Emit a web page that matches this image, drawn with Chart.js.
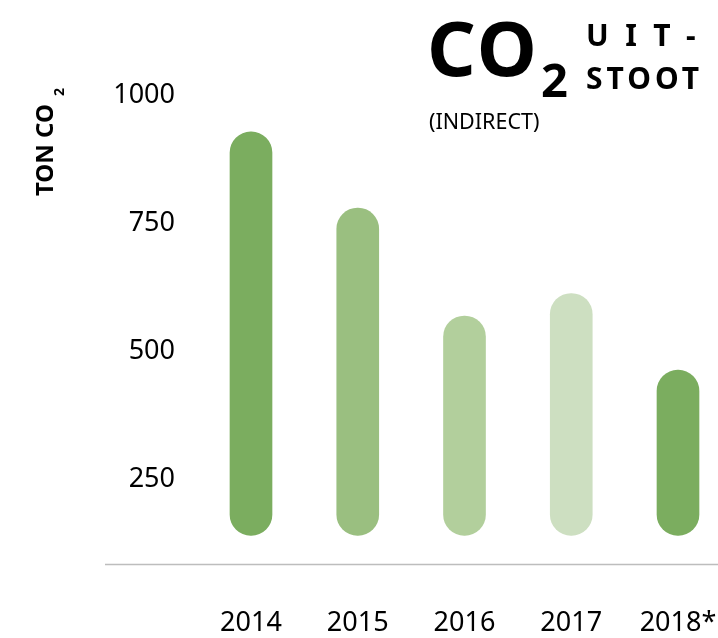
<!DOCTYPE html>
<html>
<head>
<meta charset="utf-8">
<script src="https://cdn.jsdelivr.net/npm/chart.js@4.4.0/dist/chart.umd.min.js"></script>
<style>
  html, body { margin: 0; padding: 0; background: #fff; }
  #wrap { position: relative; width: 718px; height: 638px; font-family: "Noto Sans", sans-serif; color: #000; }
  #chart { position: absolute; left: 0; top: 0; }
  .t { position: absolute; line-height: 1; white-space: nowrap; font-weight: 700; }
  #co { left: 427px; top: 9px; font-size: 76px; letter-spacing: 2.5px; }
  #co-sub { left: 541px; top: 56px; font-size: 47px; }
  #indirect { left: 429px; top: 110px; font-size: 21.5px; font-weight: 400; }
  #uit { left: 586px; top: 20px; font-size: 30px; letter-spacing: 16.5px; }
  #stoot { left: 586px; top: 63px; font-size: 30px; letter-spacing: 4px; }
  #ytitle { left: 31.6px; top: 195.5px; font-size: 24px; transform-origin: 0 0; transform: rotate(-90deg); }
  #ytitle span { position: absolute; left: 100px; top: 20px; font-size: 14px; line-height: 1; }
</style>
</head>
<body>
<div id="wrap">
  <canvas id="chart" width="718" height="638"></canvas>
  <div class="t" id="co">CO</div>
  <div class="t" id="co-sub">2</div>
  <div class="t" id="uit">UIT-</div>
  <div class="t" id="stoot">STOOT</div>
  <div class="t" id="indirect">(INDIRECT)</div>
  <div class="t" id="ytitle">TON CO<span>2</span></div>
</div>
<script>
const YEARS   = ['2014', '2015', '2016', '2017', '2018*'];
const CO2_TON = [924, 775, 564, 608, 458];
const BAR_BASE = 135;
const Y_TICKS = [250, 500, 750, 1000];
const BAR_COLORS = ['#7bad5f', '#9abf80', '#b2cf9c', '#cddfc1', '#7bad5f'];

// grey line under the bars, running past the chart area like in the print version
const baseLine = {
  id: 'baseLine',
  afterDraw(chart) {
    const { ctx, chartArea } = chart;
    ctx.save();
    ctx.strokeStyle = '#bdbdbd';
    ctx.lineWidth = 1.5;
    ctx.beginPath();
    ctx.moveTo(105, chartArea.bottom + 0.5);
    ctx.lineTo(chart.width, chartArea.bottom + 0.5);
    ctx.stroke();
    ctx.restore();
  },
};

new Chart(document.getElementById('chart'), {
  type: 'bar',
  plugins: [baseLine],
  data: {
    labels: YEARS,
    datasets: [{
      data: CO2_TON.map(v => [BAR_BASE, v]),
      backgroundColor: BAR_COLORS,
      borderRadius: 21,
      borderSkipped: false,
      barThickness: 42,
      clip: false,
    }],
  },
  options: {
    responsive: false,
    animation: false,
    layout: { padding: { top: 93, right: 40, bottom: 0, left: 0 } },
    plugins: {
      legend: { display: false },
      tooltip: { enabled: false },
    },
    scales: {
      x: {
        offset: false,
        grid: { display: false, drawTicks: false },
        border: { display: false },
        ticks: { color: '#000', padding: 43, font: { family: 'Noto Sans', size: 27 } },
        afterFit: s => { s.height = 74; s.paddingLeft = 0; s.paddingRight = 0; },
      },
      y: {
        min: 79,
        max: 1000,
        grid: { display: false, drawTicks: false },
        border: { display: false },
        ticks: {
          color: '#000',
          padding: 76,
          labelOffset: 2.5,
          font: { family: 'Noto Sans', size: 27 },
          callback: v => String(v),
        },
        afterBuildTicks: s => { s.ticks = Y_TICKS.map(v => ({ value: v })); },
        afterFit: s => { s.width = 251; s.paddingTop = 0; s.paddingBottom = 0; },
      },
    },
  },
});
</script>
</body>
</html>
